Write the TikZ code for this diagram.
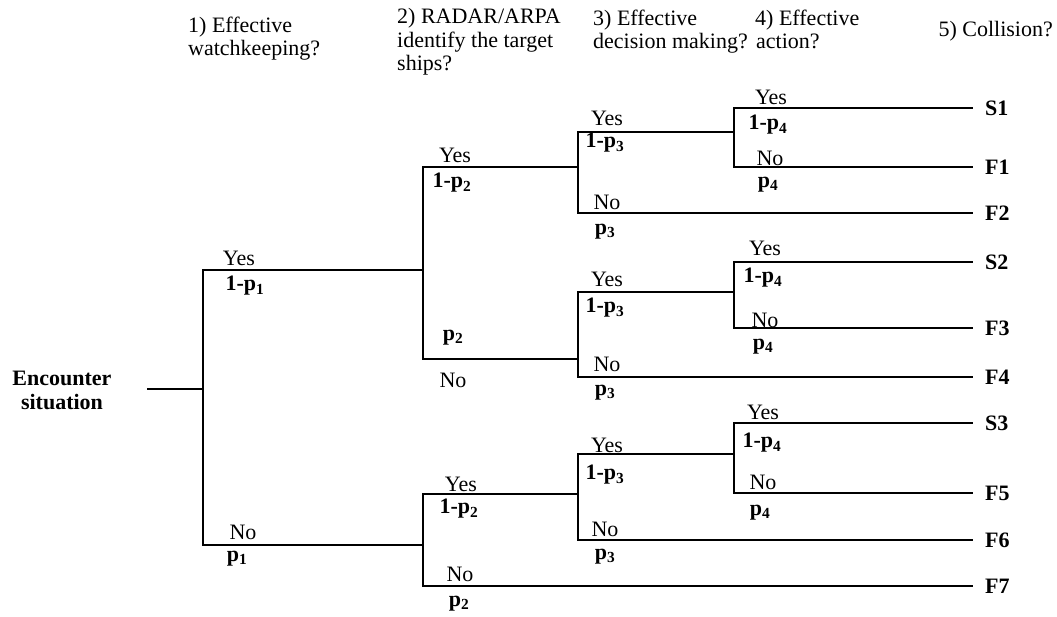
\documentclass[tikz,border=0pt]{standalone}
\usepackage{fontspec}
\setmainfont{Liberation Serif}
\newcommand\dtfont{\fontsize{22}{24}\selectfont}
\newcommand\pp[1]{p\textsubscript{#1}}
\begin{document}
\begin{tikzpicture}[x=1pt,y=-1pt,
  br/.style={line width=1.2pt},
  lab/.style={inner sep=0pt, font=\dtfont},
  prob/.style={inner sep=0pt, font=\dtfont\bfseries},
  endn/.style={anchor=west, inner xsep=12pt, inner ysep=0pt, font=\dtfont\bfseries, text height=15pt, text depth=0pt},
  hdr/.style={anchor=base west, inner sep=0pt, font=\dtfont}]
\useasboundingbox (0,0) rectangle (1057,616);

% headers
\node[hdr] (h1a) at (188,32) {1) Effective};
\node[hdr] (h1b) at (188,55) {watchkeeping?};
\node[hdr] (h2a) at (397,23) {2) RADAR/ARPA};
\node[hdr] (h2b) at (397,47) {identify the target};
\node[hdr] (h2c) at (397,70) {ships?};
\node[hdr] (h3a) at (593,25) {3) Effective};
\node[hdr] (h3b) at (593,48) {decision making?};
\node[hdr] (h4a) at (755,25) {4) Effective};
\node[hdr] (h4b) at (756,48) {action?};
\node[hdr, anchor=base east] (h5) at (1053,36) {5) Collision?};

% root
\node[inner sep=0pt, align=center, font=\dtfont\bfseries] (enc) at (62,390) {Encounter\\situation};
\coordinate (r0) at (147,389);
\coordinate (D1) at (203,389);
\coordinate (D2a) at (423,270);
\coordinate (D2c) at (423,545);
\coordinate (D3a) at (578,167);
\coordinate (D3b) at (578,359);
\coordinate (D3c) at (578,494);
\coordinate (D4a) at (734,132);
\coordinate (D4b) at (734,292);
\coordinate (D4c) at (734,454);

% end nodes
\node[endn] (S1) at (973,108) {S1};
\node[endn] (F1) at (973,167) {F1};
\node[endn] (F2) at (973,213) {F2};
\node[endn] (S2) at (973,262) {S2};
\node[endn] (F3) at (973,328) {F3};
\node[endn] (F4) at (973,377) {F4};
\node[endn] (S3) at (973,423) {S3};
\node[endn] (F5) at (973,493) {F5};
\node[endn] (F6) at (973,540) {F6};
\node[endn] (F7) at (973,586) {F7};

% branches
\draw[br] (r0) -- (D1);
\draw[br] (D1) |- (D2a);
\draw[br] (D1) |- (D2c);
\draw[br] (D2a) |- (D3a);
\draw[br] (D2a) |- (D3b);
\draw[br] (D2c) |- (D3c);
\draw[br] (D2c) |- (F7.west);
\draw[br] (D3a) |- (D4a);
\draw[br] (D3a) |- (F2.west);
\draw[br] (D3b) |- (D4b);
\draw[br] (D3b) |- (F4.west);
\draw[br] (D3c) |- (D4c);
\draw[br] (D3c) |- (F6.west);
\draw[br] (D4a) |- (S1.west);
\draw[br] (D4a) |- (F1.west);
\draw[br] (D4b) |- (S2.west);
\draw[br] (D4b) |- (F3.west);
\draw[br] (D4c) |- (S3.west);
\draw[br] (D4c) |- (F5.west);

% labels level 1
\node[lab] (y1) at (239,258) {Yes};
\node[prob] (q1) at (245,286) {1-\pp{1}};
\node[lab] (n1) at (243,532) {No};
\node[prob] (p1) at (237,559) {\pp{1}};
% level 2
\node[lab] (y2a) at (455,155) {Yes};
\node[prob] (q2a) at (452,183) {1-\pp{2}};
\node[prob] (p2a) at (453,338) {\pp{2}};
\node[lab] (n2a) at (453,380) {No};
\node[lab] (y2c) at (461,484) {Yes};
\node[prob] (q2c) at (459,509) {1-\pp{2}};
\node[lab] (n2c) at (460,574) {No};
\node[prob] (p2c) at (459,604) {\pp{2}};
% level 3
\node[lab] (y3a) at (607,118) {Yes};
\node[prob] (q3a) at (605,143) {1-\pp{3}};
\node[lab] (n3a) at (607,202) {No};
\node[prob] (p3a) at (605,232) {\pp{3}};
\node[lab] (y3b) at (607,279) {Yes};
\node[prob] (q3b) at (605,308) {1-\pp{3}};
\node[lab] (n3b) at (607,364) {No};
\node[prob] (p3b) at (605,393) {\pp{3}};
\node[lab] (y3c) at (607,445) {Yes};
\node[prob] (q3c) at (605,475) {1-\pp{3}};
\node[lab] (n3c) at (605,529) {No};
\node[prob] (p3c) at (605,557) {\pp{3}};
% level 4
\node[lab] (y4a) at (771,97) {Yes};
\node[prob] (q4a) at (768,125) {1-\pp{4}};
\node[lab] (n4a) at (770,158) {No};
\node[prob] (p4a) at (768,185) {\pp{4}};
\node[lab] (y4b) at (765,248) {Yes};
\node[prob] (q4b) at (763,278) {1-\pp{4}};
\node[lab] (n4b) at (765,320) {No};
\node[prob] (p4b) at (763,347) {\pp{4}};
\node[lab] (y4c) at (763,412) {Yes};
\node[prob] (q4c) at (762,443) {1-\pp{4}};
\node[lab] (n4c) at (763,482) {No};
\node[prob] (p4c) at (760,513) {\pp{4}};
\end{tikzpicture}
\end{document}
